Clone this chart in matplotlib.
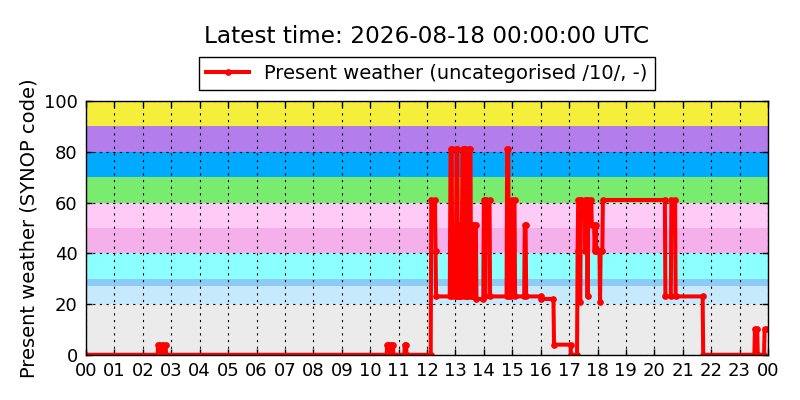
import matplotlib
matplotlib.use("Agg")
import matplotlib.pyplot as plt

# Observation times (hours since 00 UTC) and present weather code
hours = [0.00, 2.52, 2.54, 2.62, 2.64, 2.70, 2.72, 2.80, 2.82,
         10.58, 10.60, 10.67, 10.69, 10.72, 10.74, 10.80, 10.82,
         11.20, 11.22, 11.26, 11.28,
         12.13, 12.15, 12.28, 12.30, 12.32, 12.80, 12.83, 12.87, 12.89,
         12.97, 12.99, 13.01, 13.04, 13.07, 13.09, 13.11, 13.13, 13.15,
         13.17, 13.19, 13.21, 13.25, 13.29, 13.31, 13.33, 13.35, 13.37,
         13.39, 13.41, 13.43, 13.45, 13.49, 13.53, 13.55, 13.57, 13.59,
         13.61, 13.63, 13.66, 13.72, 13.74, 13.98, 14.00, 14.03, 14.05,
         14.08, 14.20, 14.22, 14.80, 14.82, 14.86, 14.88, 14.97, 14.99,
         15.08, 15.10, 15.42, 15.44, 15.47, 15.49, 16.00, 16.02, 16.45,
         16.47, 17.05, 17.07, 17.28, 17.30, 17.32, 17.37, 17.39, 17.42,
         17.55, 17.57, 17.60, 17.63, 17.65, 17.67, 17.78, 17.80, 17.88,
         17.90, 17.93, 17.96, 18.07, 18.09, 18.11, 18.17, 18.19,
         20.37, 20.39, 20.58, 20.60, 20.73, 20.75, 21.70, 21.72,
         23.52, 23.54, 23.62, 23.64, 23.86, 23.88, 24.00]
codes = [0, 0, 4, 4, 0, 0, 4, 4, 0,
         0, 4, 4, 0, 0, 4, 4, 0,
         0, 4, 4, 0,
         0, 61, 61, 41, 23, 23, 81, 81, 23,
         23, 51, 23, 81, 81, 23, 51, 23, 51,
         23, 51, 23, 81, 81, 23, 81, 81, 23,
         51, 23, 51, 23, 81, 81, 23, 51, 23,
         51, 23, 51, 51, 22, 22, 61, 61, 23,
         61, 61, 23, 23, 81, 81, 23, 23, 61,
         61, 23, 23, 51, 51, 23, 23, 22, 22,
         4, 4, 0, 0, 41, 61, 61, 21, 61,
         61, 41, 51, 61, 23, 61, 61, 51, 51,
         41, 51, 41, 41, 21, 41, 41, 61,
         61, 23, 23, 61, 61, 23, 23, 0,
         0, 10, 10, 0, 0, 10, 10]

# Background category bands (lower, upper, colour)
band_low = [0, 20, 27, 30, 40, 50, 60, 70, 80, 90]
band_high = [20, 27, 30, 40, 50, 60, 70, 80, 90, 100]
band_colors = ["#ebebeb", "#c6e9fb", "#8ccbf5", "#8cffff", "#f5b0ec",
               "#fdcbf6", "#79eb6e", "#00aaff", "#b37deb", "#f5ef3b"]

tick_hours = list(range(0, 25))
tick_labels = ["%02d" % (h % 24) for h in tick_hours]

fig = plt.figure(figsize=(8, 4), dpi=100)
ax = fig.add_axes([0.1075, 0.113, 0.8525, 0.6345])

for lo, hi, c in zip(band_low, band_high, band_colors):
    ax.axhspan(lo, hi, color=c, zorder=0, lw=0)

ax.plot(hours, codes, color="red", lw=2.9, marker="o", ms=3.8,
        mec="red", mfc="red", zorder=3,
        label="Present weather (uncategorised /10/, -)")

ax.set_xlim(0, 24)
ax.set_ylim(0, 100)
ax.set_xticks(tick_hours)
ax.set_xticklabels(tick_labels, fontsize=13)
ax.set_yticks(range(0, 101, 20))
ax.tick_params(axis="y", labelsize=13, pad=6)
ax.tick_params(direction="in", top=True, right=True, length=4, width=1)
ax.tick_params(axis="x", pad=5)
ax.grid(True, color="black", linestyle=(0, (2, 4)), linewidth=0.8, zorder=1)
ax.set_axisbelow(False)
for s in ax.spines.values():
    s.set_linewidth(1)
    s.set_zorder(4)

ax.set_ylabel("Present weather (SYNOP code)", fontsize=14)
ax.set_title("Latest time: 2026-08-18 00:00:00 UTC", fontsize=16.7, pad=42)
leg = ax.legend(loc="lower center", bbox_to_anchor=(0.5, 1.045), fontsize=14,
                fancybox=False, edgecolor="black", framealpha=1,
                borderaxespad=0, numpoints=1, handlelength=2.2,
                borderpad=0.35)
leg.get_frame().set_linewidth(1)

fig.savefig("out.png", dpi=100)
